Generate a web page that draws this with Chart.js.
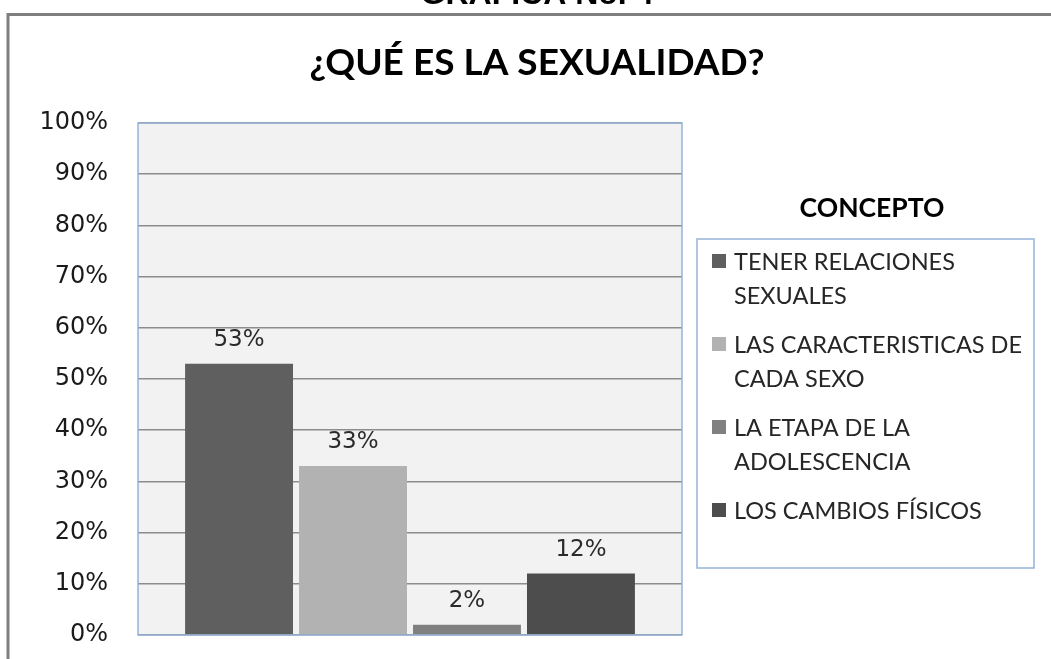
<!DOCTYPE html>
<html>
<head>
<meta charset="utf-8">
<script src="https://cdn.jsdelivr.net/npm/chart.js@4/dist/chart.umd.min.js"></script>
<style>
  html, body { margin: 0; padding: 0; background: #fff; overflow: hidden; }
  canvas { display: block; }
</style>
</head>
<body>
<canvas id="grafica4" width="1051" height="659"></canvas>
<script>
// datos de la grafica
var pageTitle  = 'GRAFICA No. 4';
var chartTitle = '¿QUÉ ES LA SEXUALIDAD?';
var legendTitle = 'CONCEPTO';
var conceptos = ['TENER RELACIONES\nSEXUALES', 'LAS CARACTERISTICAS DE\nCADA SEXO', 'LA ETAPA DE LA\nADOLESCENCIA', 'LOS CAMBIOS FÍSICOS'];
var porcentajes = [53, 33, 2, 12];
var colores = ['#5f5f5f', '#b2b2b2', '#808080', '#4d4d4d'];
var yTicks = [0, 10, 20, 30, 40, 50, 60, 70, 80, 90, 100];

var narrow = 'Lato, "Open Sans", sans-serif';

var datasets = [];
for (var i = 0; i < conceptos.length; i++) {
    datasets.push({
        label: conceptos[i],
        data: [porcentajes[i]],
        backgroundColor: colores[i],
        borderWidth: 0
    });
}

var decor = {
    id: 'decor',
    beforeDraw: function(chart) {
        var ctx = chart.ctx, a = chart.chartArea;
        ctx.save();
        ctx.fillStyle = '#fff';
        ctx.fillRect(0, 0, chart.width, chart.height);
        ctx.strokeStyle = '#7f7f7f';
        ctx.lineWidth = 3;
        ctx.strokeRect(8, 14.5, chart.width + 40, chart.height + 40);
        ctx.fillStyle = '#f2f2f2';
        ctx.fillRect(a.left, a.top, a.right - a.left, a.bottom - a.top);
        ctx.restore();
    },
    afterDatasetsDraw: function(chart) {
        var ctx = chart.ctx, a = chart.chartArea;
        ctx.save();
        ctx.strokeStyle = '#95b3d7';
        ctx.lineWidth = 1.5;
        ctx.strokeRect(a.left, a.top, a.right - a.left, a.bottom - a.top);
        // etiquetas de valor
        ctx.fillStyle = '#2b2b2b';
        ctx.font = '23px "DejaVu Sans"';
        ctx.textAlign = 'center';
        ctx.textBaseline = 'alphabetic';
        chart.data.datasets.forEach(function(ds, k) {
            var bar = chart.getDatasetMeta(k).data[0];
            ctx.fillText(ds.data[0] + '%', bar.x, bar.y - 18);
        });
        ctx.restore();
    },
    afterDraw: function(chart) {
        var ctx = chart.ctx;
        ctx.save();
        ctx.textAlign = 'center';
        ctx.textBaseline = 'alphabetic';
        ctx.fillStyle = '#000';
        // titulo de pagina (cortado arriba)
        ctx.font = 'bold 32px "Liberation Sans", Arial';
        ctx.fillText(pageTitle, 537, 4);
        // titulo del grafico
        ctx.font = 'bold 37px ' + narrow;
        ctx.fillText(chartTitle, 537, 75);
        // leyenda
        ctx.font = 'bold 26.5px ' + narrow;
        ctx.fillText(legendTitle, 872, 217);
        ctx.strokeStyle = '#95b3d7';
        ctx.lineWidth = 1.5;
        ctx.strokeRect(697, 239, 337, 329);
        ctx.textAlign = 'left';
        ctx.font = '23.5px ' + narrow;
        chart.data.datasets.forEach(function(ds, k) {
            var base = 270 + k * 83;
            ctx.fillStyle = ds.backgroundColor;
            ctx.fillRect(712, base - 16, 14, 14);
            ctx.fillStyle = '#262626';
            ds.label.split('\n').forEach(function(line, j) {
                ctx.fillText(line, 734, base + j * 34);
            });
        });
        ctx.restore();
    }
};

var ctx = document.getElementById('grafica4');
var myChart = new Chart(ctx, {
    type: 'bar',
    data: {
        labels: [''],
        datasets: datasets
    },
    options: {
        responsive: false,
        animation: false,
        layout: { padding: { left: 0, top: 123, right: 369, bottom: 24 } },
        categoryPercentage: 0.838,
        barPercentage: 0.947,
        plugins: {
            legend: { display: false },
            title: { display: false },
            tooltip: { enabled: false }
        },
        scales: {
            x: { display: false },
            y: {
                min: 0,
                max: 100,
                afterFit: function(scale) {
                    scale.width = 138;
                    scale.paddingTop = 0;
                    scale.paddingBottom = 0;
                },
                afterBuildTicks: function(scale) {
                    scale.ticks = yTicks.map(function(v) { return { value: v }; });
                },
                border: { display: false },
                grid: { color: '#8c8c8c', lineWidth: 1.5, drawTicks: false },
                ticks: {
                    padding: 30,
                    color: '#1a1a1a',
                    font: { family: '"DejaVu Sans"', size: 24 },
                    callback: function(v) { return v + '%'; }
                }
            }
        }
    },
    plugins: [decor]
});
</script>
</body>
</html>
